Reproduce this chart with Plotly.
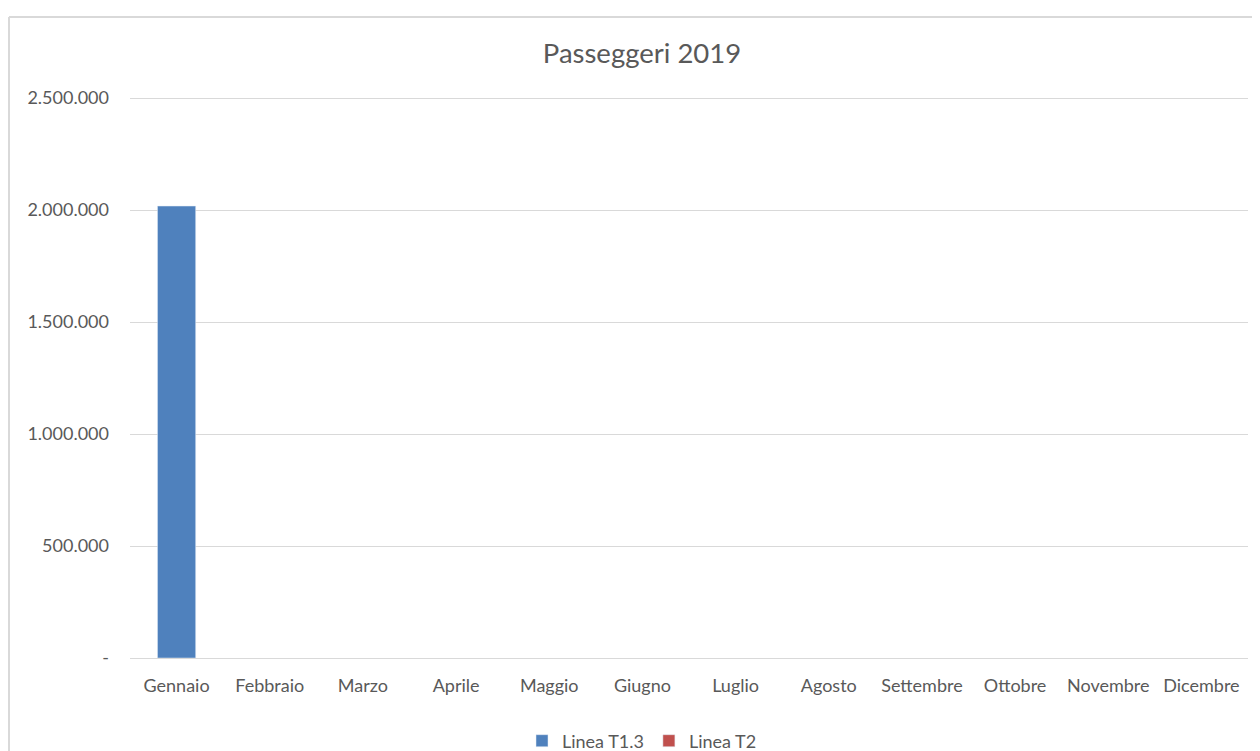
import plotly.graph_objects as go

mesi = ["Gennaio", "Febbraio", "Marzo", "Aprile", "Maggio", "Giugno",
        "Luglio", "Agosto", "Settembre", "Ottobre", "Novembre", "Dicembre"]
linea_t13 = [2018000, None, None, None, None, None, None, None, None, None, None, None]
linea_t2 = [None, None, None, None, None, None, None, None, None, None, None, None]
y_tickvals = [0, 500000, 1000000, 1500000, 2000000, 2500000]
y_ticktext = ["-", "500.000", "1.000.000", "1.500.000", "2.000.000", "2.500.000"]

# page body has an 8px margin, so work in figure coordinates = reference - 8
W, H = 1252, 743
L, R, T, B = 122, 12, 89, 93
pw, ph = W - L - R, H - T - B

fig = go.Figure()
fig.add_trace(go.Bar(x=mesi, y=linea_t13, name="Linea T1.3", marker_color="#4f81bd", width=0.41))
fig.add_trace(go.Bar(x=mesi, y=linea_t2, name="Linea T2", marker_color="#c0504d", width=0.41))

font = "Lato, 'Open Sans', sans-serif"
bx = (1 - L) / pw
by = 1 + (T - 9) / ph
fig.update_layout(
    width=W, height=H,
    margin=dict(l=L, r=R, t=T, b=B, autoexpand=False),
    paper_bgcolor="white", plot_bgcolor="white",
    barmode="overlay",
    font=dict(family=font, color="#595959", size=18),
    title=dict(text="Passeggeri 2019", x=634 / W, xref="container", xanchor="center",
               y=1 - 45 / H, yref="container", yanchor="middle",
               font=dict(size=27.5, color="#595959", family=font)),
    xaxis=dict(showgrid=False, showline=True, linecolor="#d9d9d9", linewidth=1,
               ticks="", tickfont=dict(size=18, color="#595959"), ticklabelstandoff=11,
               fixedrange=True),
    yaxis=dict(range=[0, 2505000], tickvals=y_tickvals, ticktext=y_ticktext,
               showgrid=True, gridcolor="#d9d9d9", gridwidth=1, zeroline=False,
               tickfont=dict(size=18, color="#595959"), ticklabelstandoff=20,
               showline=False),
    legend=dict(orientation="h", x=(634 - L) / pw, xanchor="center",
                y=(650 - 733) / ph, yanchor="middle",
                font=dict(size=18, color="#595959"), itemwidth=30, traceorder="normal"),
    showlegend=True,
    shapes=[
        dict(type="line", xref="paper", yref="paper", x0=bx, x1=bx, y0=-0.3, y1=by,
             line=dict(color="#d9d9d9", width=2)),
        dict(type="line", xref="paper", yref="paper", x0=bx, x1=1.2, y0=by, y1=by,
             line=dict(color="#d9d9d9", width=2)),
    ],
)
fig.write_html("out.html")
